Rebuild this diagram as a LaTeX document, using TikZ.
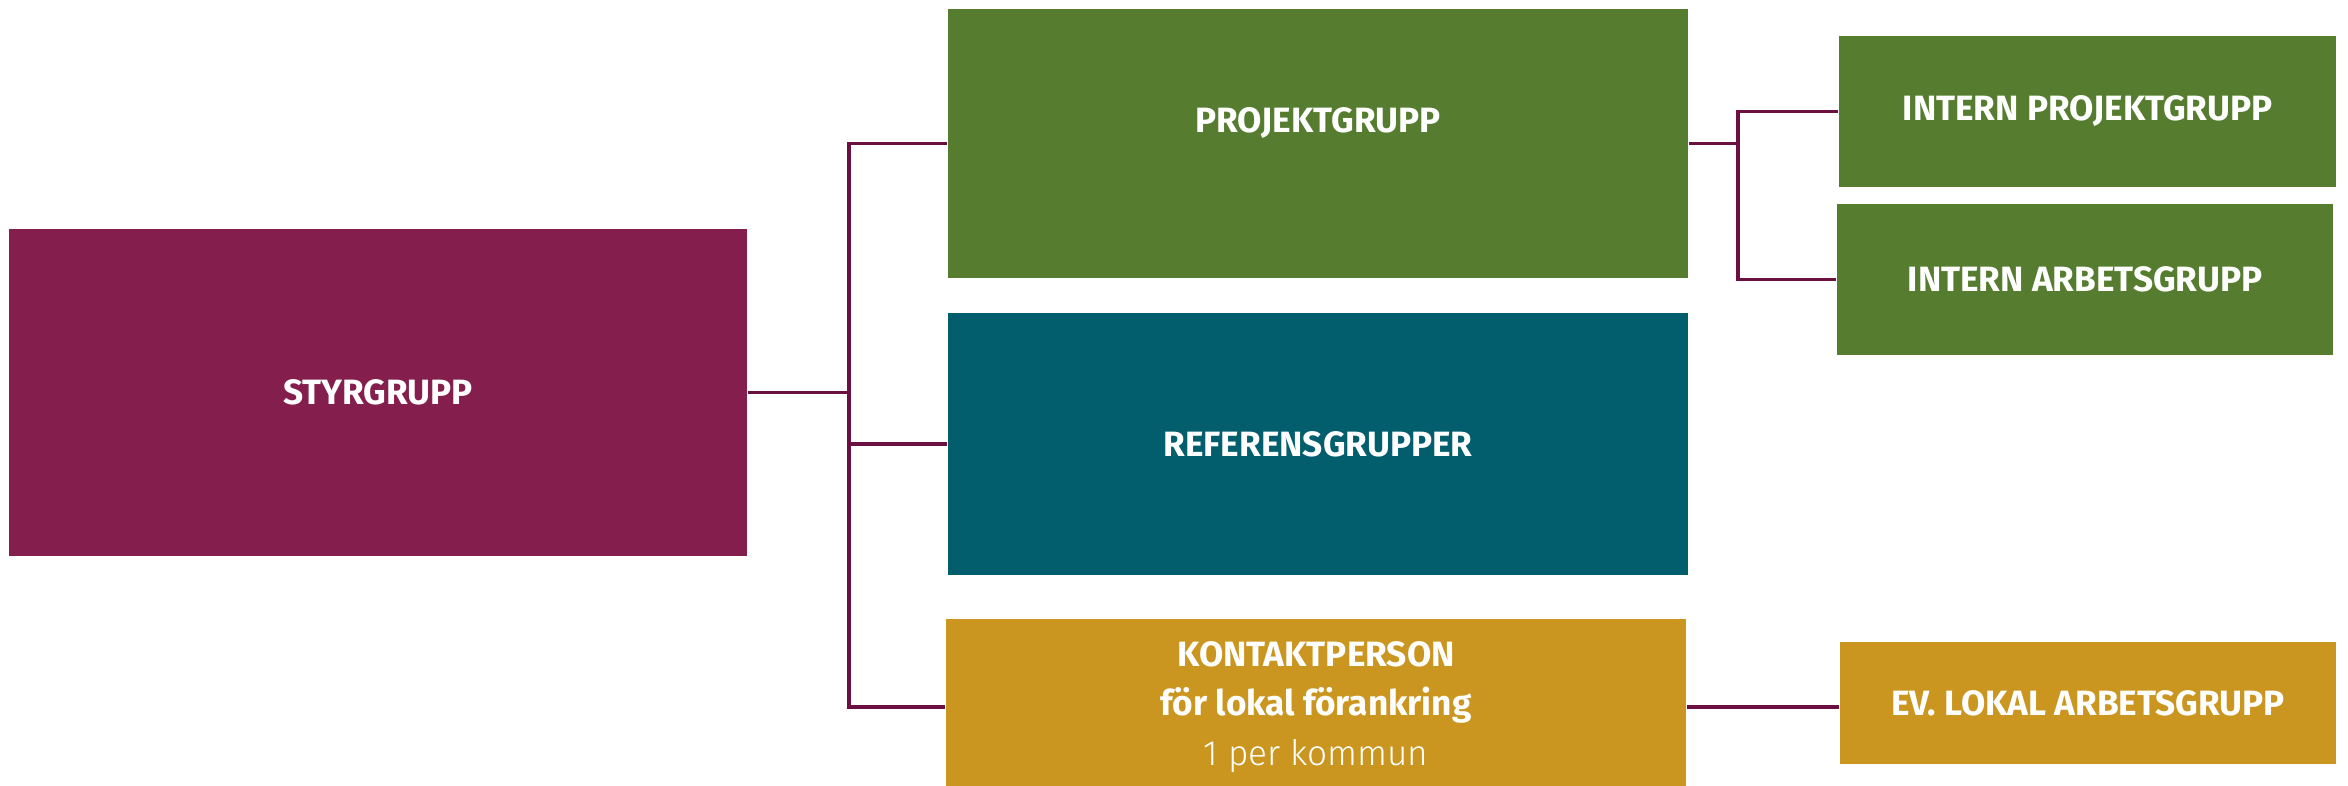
\documentclass[tikz,border=0pt]{standalone}
\usepackage{fontspec}
\setmainfont{Fira Sans}
\newfontfamily\lightfont{Fira Sans Light}
\usetikzlibrary{positioning}

\definecolor{styrred}{RGB}{132,30,77}
\definecolor{projgreen}{RGB}{86,125,47}
\definecolor{refteal}{RGB}{2,94,109}
\definecolor{kontgold}{RGB}{202,150,32}
\definecolor{linkred}{RGB}{107,16,64}

\tikzset{
  grp/.style={rectangle, inner sep=0pt, text=white, align=center,
    font=\fontsize{10}{14}\selectfont\bfseries},
  conn/.style={draw=linkred, line width=1pt}
}

\begin{document}
\begin{tikzpicture}[x=0.01cm, y=-0.01cm]

  \useasboundingbox (0,0) rectangle (2348,786);

  % left column
  \node[grp, fill=styrred, minimum width=7.38cm, minimum height=3.27cm] (styr) at (378, 392.5) {STYRGRUPP};

  % middle column
  \node[grp, fill=projgreen, minimum width=7.40cm, minimum height=2.69cm, text depth=0.47cm] (proj) at (1318, 143.5) {PROJEKTGRUPP};
  \node[grp, fill=refteal, minimum width=7.40cm, minimum height=2.62cm] (ref) at (1318, 444) {REFERENSGRUPPER};
  \node[grp, fill=kontgold, minimum width=7.40cm, minimum height=1.76cm] (kont) at (1316, 707)
    {KONTAKTPERSON\\för lokal förankring\\{\lightfont\mdseries 1 per kommun}};

  % right column
  \node[grp, fill=projgreen, minimum width=4.97cm, minimum height=1.51cm] (intp) at (2087.5, 111.5) {INTERN PROJEKTGRUPP};
  \node[grp, fill=projgreen, minimum width=4.96cm, minimum height=1.51cm] (inta) at (2085, 279.5) {INTERN ARBETSGRUPP};
  \node[grp, fill=kontgold, minimum width=4.96cm, minimum height=1.22cm] (evl) at (2088, 703) {EV. LOKAL ARBETSGRUPP};

  \coordinate (j1) at (849, 392.5);
  \coordinate (j2) at (1738, 143.5);

  \draw[conn] (styr.east) -- (j1);
  \draw[conn] (j1) |- (proj.west);
  \draw[conn] (j1) |- (ref.west);
  \draw[conn] (j1) |- (kont.west);

  \draw[conn] (proj.east) -- (j2);
  \draw[conn] (j2) |- (intp.west);
  \draw[conn] (j2) |- (inta.west);

  \draw[conn] (kont.east) -- (kont.east -| evl.west);

\end{tikzpicture}
\end{document}
